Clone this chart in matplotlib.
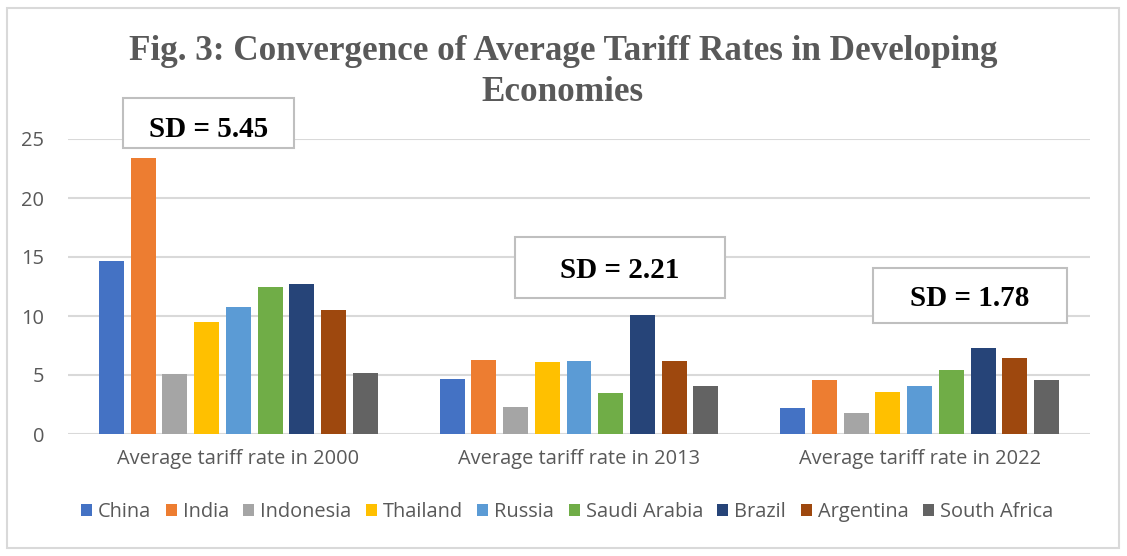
import matplotlib
matplotlib.use("Agg")
import matplotlib.pyplot as plt
import numpy as np
from matplotlib.patches import Rectangle, Patch

categories = ["Average tariff rate in 2000", "Average tariff rate in 2013", "Average tariff rate in 2022"]
countries = ["China", "India", "Indonesia", "Thailand", "Russia", "Saudi Arabia", "Brazil", "Argentina", "South Africa"]
china = [14.7, 4.7, 2.2]
india = [23.4, 6.3, 4.6]
indonesia = [5.1, 2.3, 1.8]
thailand = [9.5, 6.1, 3.6]
russia = [10.8, 6.2, 4.1]
saudi_arabia = [12.5, 3.5, 5.4]
brazil = [12.7, 10.1, 7.3]
argentina = [10.5, 6.2, 6.4]
south_africa = [5.2, 4.1, 4.6]
series = [china, india, indonesia, thailand, russia, saudi_arabia, brazil, argentina, south_africa]
sd_labels = ["SD = 5.45", "SD = 2.21", "SD = 1.78"]
yticks = [0, 5, 10, 15, 20, 25]

colors = ["#4472C4", "#ED7D31", "#A5A5A5", "#FFC000", "#5B9BD5", "#70AD47", "#264478", "#9E480E", "#636363"]
txt = "#595959"
sans = "Open Sans"
fs = 14.4
W, H = 1127, 556

fig = plt.figure(figsize=(W / 100, H / 100), dpi=100)
fig.patch.set_facecolor("white")
# outer border
fig.patches.append(Rectangle((7 / W, 1 - 548 / H), (1119 - 7) / W, (548 - 8) / H,
                             transform=fig.transFigure, fill=False, edgecolor="#d9d9d9", lw=1.5))

ax = fig.add_axes([68 / W, 1 - 434 / H, (1090 - 68) / W, (434 - 139) / H])
x = np.arange(len(categories))
step = 0.093
bw = 0.0733
for i, (vals, c, name) in enumerate(zip(series, colors, countries)):
    ax.bar(x + (i - 4) * step, vals, width=bw, color=c, label=name, zorder=3)

ax.set_xlim(-0.5, 2.5)
ax.set_ylim(0, 25)
ax.set_yticks(yticks)
ax.set_xticks(x)
ax.set_xticklabels(categories)
ax.grid(axis="y", color="#d9d9d9", lw=1.5, zorder=0)
for s in ax.spines.values():
    s.set_visible(False)
ax.tick_params(axis="both", length=0, labelcolor=txt, labelsize=fs)
ax.tick_params(axis="x", pad=11)
ax.tick_params(axis="y", pad=17)
for lab in ax.get_xticklabels() + ax.get_yticklabels():
    lab.set_family(sans)

# Title
fig.text(0.5, 1 - 60 / H, "Fig. 3: Convergence of Average Tariff Rates in Developing",
         ha="center", va="baseline", fontsize=25.3, fontweight="bold",
         family="Liberation Serif", color=txt)
fig.text(562 / W, 1 - 101 / H, "Economies", ha="center", va="baseline", fontsize=25.3,
         fontweight="bold", family="Liberation Serif", color=txt)

# SD boxes (pixel coords: x0, x1, y0, y1, baseline)
boxes = [(123, 294, 98, 148, 137), (515, 725, 237, 298, 278), (873, 1067, 268, 323, 306)]
for (x0, x1, y0, y1, bl), lab in zip(boxes, sd_labels):
    fig.patches.append(Rectangle((x0 / W, 1 - y1 / H), (x1 - x0) / W, (y1 - y0) / H,
                                 transform=fig.transFigure, facecolor="white",
                                 edgecolor="#bfbfbf", lw=1.5, zorder=5))
    fig.text((x0 + x1) / 2 / W, 1 - bl / H, lab, ha="center", va="baseline",
             fontsize=21, fontweight="bold", family="Liberation Serif", color="black", zorder=6)

handles = [Patch(facecolor=c, edgecolor="none") for c in colors]
leg = fig.legend(handles, countries, loc="center", bbox_to_anchor=(567 / W, 1 - 512 / H),
                 ncol=9, frameon=False, handlelength=0.55, handleheight=0.55,
                 handletextpad=0.3, columnspacing=0.72,
                 prop={"family": sans, "size": fs})
for t in leg.get_texts():
    t.set_color(txt)

fig.savefig("out.png", dpi=100)
